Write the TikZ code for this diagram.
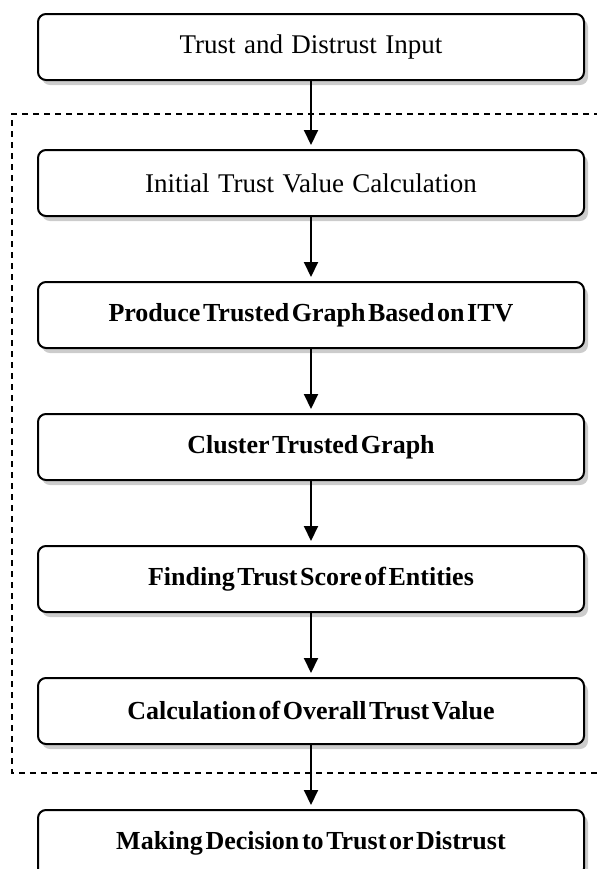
\documentclass[tikz,border=0pt]{standalone}
\usepackage{fontspec}
\setmainfont{Liberation Serif}
\usetikzlibrary{positioning,shadows,arrows.meta}

\newcommand\stagefont{\fontsize{13.5}{15}\selectfont\spaceskip 4.2pt plus 1pt\relax}
\newcommand\tightbold{\fontsize{13}{15}\selectfont\bfseries\spaceskip 1.3pt\relax}

\tikzset{
	stage/.style={draw,line width=1pt,rounded corners=4pt,fill=white,minimum width=273pt,minimum height=33pt,inner sep=0pt,font=\stagefont,drop shadow={shadow xshift=2pt,shadow yshift=-2.5pt,opacity=.4}},
	boldstage/.style={stage,font=\tightbold},
	flow/.style={-{Triangle[length=7.5pt,width=7pt]},line width=1pt,shorten >=2pt}
}

\begin{document}
\begin{tikzpicture}[x=.5pt,y=-.5pt,node distance=32pt]
	\useasboundingbox (0,0) rectangle (596,869);
	% dashed frame, right side runs off the page
	\draw[dash pattern=on 3pt off 2.5pt,line width=.7pt] (600,114) -- (12,114) -- (12,773) -- (600,773);
	\node[stage] (input) at (311,47) {Trust and Distrust Input};
	\node[stage,below=34pt of input] (itv) {Initial Trust Value Calculation};
	\node[boldstage,below=of itv] (graph) {Produce Trusted Graph Based on ITV};
	\node[boldstage,below=of graph] (cluster) {Cluster Trusted Graph};
	\node[boldstage,below=of cluster] (score) {Finding Trust Score of Entities};
	\node[boldstage,below=of score] (overall) {Calculation of Overall Trust Value};
	\node[boldstage,below=of overall] (decision) {Making Decision to Trust or Distrust};
	\foreach \a/\b in {input/itv,itv/graph,graph/cluster,cluster/score,score/overall,overall/decision}
		\draw[flow] (\a) -- (\b);
\end{tikzpicture}
\end{document}
